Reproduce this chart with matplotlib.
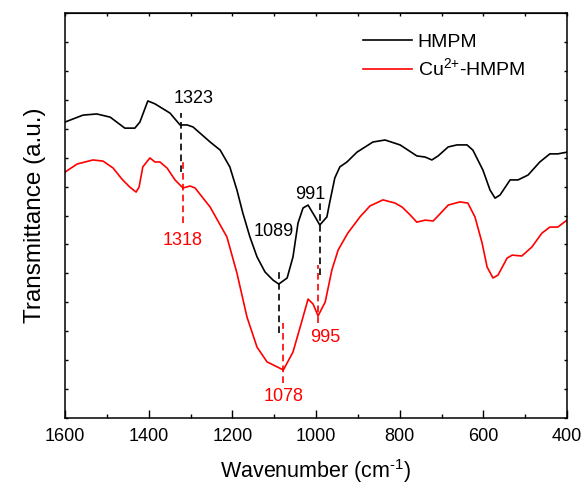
import numpy as np
import matplotlib
matplotlib.use('Agg')
from matplotlib import pyplot as plt
from matplotlib.ticker import MultipleLocator

plt.rcParams['font.family'] = ['Liberation Sans', 'DejaVu Sans']
plt.rcParams['mathtext.fontset'] = 'custom'
plt.rcParams['mathtext.rm'] = 'Liberation Sans'
plt.rcParams['mathtext.default'] = 'regular'

# HMPM (black)
wn_hmpm = [1600, 1557, 1524, 1492, 1457, 1433, 1421, 1402, 1385, 1349, 1325, 1308, 1294,
           1253, 1229, 1206, 1189, 1175, 1158, 1141, 1122, 1103, 1089, 1069, 1055, 1043,
           1031, 1019, 1002, 991, 974, 967, 955, 943, 926, 902, 864, 835, 799, 780, 759,
           739, 723, 708, 684, 663, 639, 625, 601, 584, 572, 560, 536, 517, 493, 465,
           441, 422, 400]
t_hmpm = [10.23, 10.47, 10.51, 10.40, 10.02, 10.02, 10.23, 10.96, 10.86, 10.54, 10.13,
          10.13, 10.06, 9.54, 9.26, 8.68, 7.88, 7.09, 6.26, 5.57, 5.05, 4.77, 4.63, 4.84,
          5.57, 6.74, 7.26, 7.36, 6.95, 6.67, 6.95, 7.47, 8.30, 8.68, 8.85, 9.19, 9.54,
          9.61, 9.44, 9.26, 9.06, 9.02, 8.92, 9.06, 9.37, 9.44, 9.44, 9.26, 8.57, 7.88,
          7.60, 7.71, 8.23, 8.23, 8.40, 8.85, 9.13, 9.13, 9.19]

# Cu2+-HMPM (red)
wn_cu = [1600, 1571, 1533, 1509, 1485, 1464, 1445, 1430, 1423, 1414, 1397, 1385, 1373,
         1356, 1337, 1318, 1301, 1289, 1253, 1213, 1189, 1165, 1141, 1117, 1078, 1055,
         1033, 1019, 1007, 995, 978, 962, 947, 924, 895, 871, 840, 811, 794, 775, 759,
         739, 720, 704, 684, 656, 637, 620, 603, 591, 577, 565, 543, 531, 508, 484, 460,
         441, 422, 400]
t_cu = [8.50, 8.78, 8.92, 8.88, 8.64, 8.26, 7.98, 7.81, 7.98, 8.68, 8.99, 8.85, 8.85,
        8.64, 8.23, 7.95, 8.02, 7.95, 7.29, 6.26, 5.01, 3.49, 2.45, 1.94, 1.66, 2.28,
        3.39, 4.11, 3.94, 3.53, 4.01, 5.12, 5.81, 6.39, 6.95, 7.33, 7.54, 7.43, 7.29,
        7.02, 6.77, 6.84, 6.81, 7.05, 7.36, 7.47, 7.43, 6.95, 6.05, 5.22, 4.84, 4.94,
        5.53, 5.63, 5.60, 5.91, 6.39, 6.60, 6.60, 6.84]

# peak marks: position, dash start/end, label position
peaks_hmpm = [1323, 1089, 991]
dash_hmpm = [(8.50, 10.54), (2.94, 5.05), (4.94, 7.54)]
label_hmpm = [(1293, 11.03), (1100, 6.43), (1014, 7.74)]
peaks_cu = [1318, 1078, 995]
dash_cu = [(6.74, 8.85), (1.21, 3.28), (3.28, 5.29)]
label_cu = [(1318, 6.15), (1078, 0.73), (978, 2.77)]

fig = plt.figure(figsize=(5.86, 4.88), dpi=100)
ax = fig.add_axes([65 / 586, 1 - 418 / 488, 502 / 586, 405 / 488])

ax.plot(wn_hmpm, t_hmpm, color='black', lw=1.2, label='HMPM')
ax.plot(wn_cu, t_cu, color='red', lw=1.2, label='Cu$^{2{+}}$-HMPM')

for p, (y0, y1), (lx, ly) in zip(peaks_hmpm, dash_hmpm, label_hmpm):
    ax.plot([p, p], [y0, y1], color='black', lw=1.2, ls=(0, (4, 2.5)))
    ax.text(lx, ly, str(p), color='black', fontsize=13, ha='center', va='center')
for p, (y0, y1), (lx, ly) in zip(peaks_cu, dash_cu, label_cu):
    ax.plot([p, p], [y0, y1], color='red', lw=1.2, ls=(0, (4, 2.5)))
    ax.text(lx, ly, str(p), color='red', fontsize=13, ha='center', va='center')

ax.set_xlim(1600, 400)
ax.set_ylim(0, 14)
ax.xaxis.set_major_locator(MultipleLocator(200))
ax.xaxis.set_minor_locator(MultipleLocator(100))
ax.yaxis.set_major_locator(MultipleLocator(1))
ax.set_yticklabels([])
ax.tick_params(axis='x', which='major', direction='in', length=6, width=1, labelsize=13, pad=7)
ax.tick_params(axis='x', which='minor', direction='in', length=3, width=1)
ax.tick_params(axis='y', which='major', direction='in', length=2.5, width=1, left=True, right=True)
for s in ax.spines.values():
    s.set_linewidth(1.1)

top = ax.secondary_xaxis('top')
top.xaxis.set_major_locator(MultipleLocator(100))
top.tick_params(direction='in', length=2, width=1, labeltop=False)
top.set_xticklabels([])

ax.set_xlabel('Wavenumber (cm$^{\u2010 1}$)', fontsize=15.5, labelpad=9)
ax.set_ylabel('Transmittance (a.u.)', fontsize=17.5, labelpad=10)

ax.legend(loc='upper left', bbox_to_anchor=(0.594, 0.95), frameon=False, fontsize=14,
          handlelength=2.5, handletextpad=0.3, labelspacing=0.35, borderpad=0, borderaxespad=0)

plt.savefig('out.png', dpi=100)
